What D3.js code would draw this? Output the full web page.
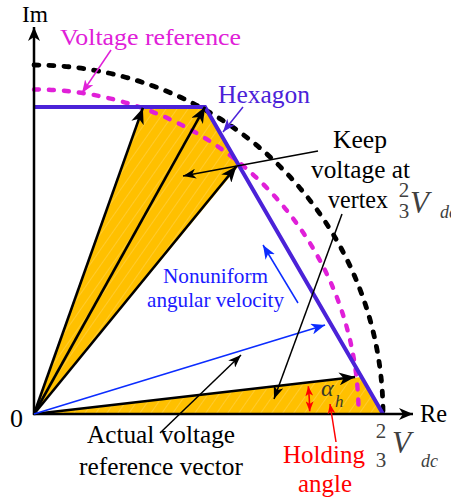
<!DOCTYPE html>
<html>
<head>
<script src="https://cdn.jsdelivr.net/npm/d3@7"></script>
</head>
<body style="margin:0">
<script>
// values in units of the 2/3 Vdc circle radius
const hexagon = [[0, 0.88], [0.49, 0.88], [1, 0]];
const circleNames = ["limit", "reference"];
const circleRadii = [1.0, 0.93];
const vectorTips = [[0.312, 0.877], [0.49, 0.88], [0.58, 0.71], [0.92, 0.106]];
const blueVector = [0.834, 0.255];
const sectorTop = [[0, 0], [0.312, 0.877], [0.49, 0.88], [0.586, 0.71]];
const sectorBottom = [[0, 0], [0.939, 0.106], [1, 0]];
const holdingRadius = 0.79;

const W = 451, H = 504;
const ox = 34, oy = 414, R = 349;
const SERIF = '"Liberation Serif"';

const svg = d3.select("body").append("svg").attr("width", W).attr("height", H);

const x = d3.scaleLinear().domain([0, 1]).range([ox, ox + R]);
const y = d3.scaleLinear().domain([0, 1]).range([oy, oy - R]);

const defs = svg.append("defs");

// faint white hatch over the orange
const pat = defs.append("pattern").attr("id", "hatch")
  .attr("patternUnits", "userSpaceOnUse").attr("width", 9).attr("height", 9)
  .attr("patternTransform", "rotate(35)");
pat.append("rect").attr("width", 9).attr("height", 9).attr("fill", "#ffc000");
pat.append("line").attr("x1", 0).attr("y1", 0).attr("x2", 0).attr("y2", 9)
  .attr("stroke", "rgba(255,255,255,0.3)").attr("stroke-width", 1.2);

function marker(id, color, len, wid) {
  defs.append("marker").attr("id", id)
    .attr("viewBox", `${-len} ${-wid / 2} ${len} ${wid}`)
    .attr("markerUnits", "userSpaceOnUse")
    .attr("markerWidth", len).attr("markerHeight", wid)
    .attr("refX", 0).attr("refY", 0)
    .attr("orient", "auto-start-reverse")
    .append("path")
    .attr("d", `M0,0 L${-len},${-wid / 2} L${-len * 0.72},0 L${-len},${wid / 2} Z`)
    .attr("fill", color);
}
marker("arrBig", "#000", 16, 13);
marker("arrAxis", "#000", 14, 12);
marker("arrSmall", "#000", 13, 10);
marker("arrBlue", "#0b2cff", 14, 11);
marker("arrMag", "#e020d8", 13, 10);
marker("arrHex", "#4b22d8", 13, 10);
marker("arrRed", "#ff0000", 10, 8);

const line = d3.line().x(d => x(d[0])).y(d => y(d[1]));

// orange sectors
svg.append("path").attr("d", line(sectorTop) + "Z").attr("fill", "url(#hatch)");
svg.append("path").attr("d", line(sectorBottom) + "Z").attr("fill", "url(#hatch)");

// dashed circles
const circColors = ["#000", "#e020d8"];
circleRadii.forEach((r, i) => {
  const p = d3.path();
  const rp = x(r) - ox;
  p.moveTo(ox, oy - rp);
  p.arc(ox, oy, rp, -Math.PI / 2, 0, false);
  svg.append("path").attr("class", circleNames[i])
    .attr("d", p.toString()).attr("fill", "none")
    .attr("stroke", circColors[i]).attr("stroke-width", i === 0 ? 4.8 : 4.4)
    .attr("stroke-linecap", "round")
    .attr("stroke-dasharray", "5 10");
});

// hexagon
svg.append("path").attr("d", line(hexagon)).attr("fill", "none")
  .attr("stroke", "#4b22d8").attr("stroke-width", 4);

// axes
svg.append("line").attr("x1", ox).attr("y1", oy + 1).attr("x2", ox).attr("y2", 27)
  .attr("stroke", "#000").attr("stroke-width", 2.5).attr("marker-end", "url(#arrAxis)");
svg.append("line").attr("x1", ox - 1).attr("y1", oy).attr("x2", 413).attr("y2", oy)
  .attr("stroke", "#000").attr("stroke-width", 2.5).attr("marker-end", "url(#arrAxis)");

// voltage vectors
svg.selectAll(".vec").data(vectorTips).enter().append("line").attr("class", "vec")
  .attr("x1", x(0)).attr("y1", y(0))
  .attr("x2", d => x(d[0])).attr("y2", d => y(d[1]))
  .attr("stroke", "#000").attr("stroke-width", 2.6)
  .attr("marker-end", "url(#arrBig)");

svg.append("line")
  .attr("x1", x(0)).attr("y1", y(0)).attr("x2", x(blueVector[0])).attr("y2", y(blueVector[1]))
  .attr("stroke", "#0b2cff").attr("stroke-width", 1.6).attr("marker-end", "url(#arrBlue)");

// holding angle arc
const last = vectorTips[vectorTips.length - 1];
const ang = Math.atan2(last[1], last[0]);
const hr = x(holdingRadius) - ox;
const hp = d3.path();
hp.moveTo(ox + hr * Math.cos(-ang * 0.88), oy + hr * Math.sin(-ang * 0.88));
hp.arc(ox, oy, hr, -ang * 0.88, -0.01, false);
svg.append("path").attr("d", hp.toString()).attr("fill", "none")
  .attr("stroke", "#ff0000").attr("stroke-width", 1.6)
  .attr("marker-start", "url(#arrRed)").attr("marker-end", "url(#arrRed)");

// annotation pointers (pixel positions)
const pointers = [
  { from: [318, 151], to: [183, 176], m: "arrSmall", c: "#000" },
  { from: [342, 214], to: [274, 399], m: "arrSmall", c: "#000" },
  { from: [160, 433], to: [241, 355], m: "arrSmall", c: "#000" },
  { from: [298, 303], to: [263, 245], m: "arrBlue", c: "#0b2cff" },
  { from: [111, 50], to: [82, 93], m: "arrMag", c: "#e020d8" },
  { from: [243, 107], to: [223, 132], m: "arrHex", c: "#4b22d8" },
  { from: [336, 442], to: [330, 404], m: "arrRed", c: "#ff0000" }
];
svg.selectAll(".ptr").data(pointers).enter().append("line").attr("class", "ptr")
  .attr("x1", d => d.from[0]).attr("y1", d => d.from[1])
  .attr("x2", d => d.to[0]).attr("y2", d => d.to[1])
  .attr("stroke", d => d.c).attr("stroke-width", 1.5)
  .attr("marker-end", d => `url(#${d.m})`);

// labels
const labels = [
  { t: "Im", x: 22, y: 22, len: 26, c: "#000", s: 24 },
  { t: "Voltage reference", x: 60, y: 45, len: 181, c: "#e020d8", s: 24 },
  { t: "Hexagon", x: 218, y: 103, len: 92, c: "#4b22d8", s: 25 },
  { t: "Keep", x: 333, y: 148, len: 54, c: "#000", s: 25 },
  { t: "voltage at", x: 311, y: 178, len: 99, c: "#000", s: 25 },
  { t: "vertex", x: 328, y: 208, len: 60, c: "#000", s: 25 },
  { t: "Nonuniform", x: 163, y: 283, len: 105, c: "#1a1aff", s: 21 },
  { t: "angular velocity", x: 147, y: 307, len: 137, c: "#1a1aff", s: 21 },
  { t: "Actual voltage", x: 87, y: 443, len: 148, c: "#000", s: 25 },
  { t: "reference vector", x: 79, y: 475, len: 164, c: "#000", s: 25 },
  { t: "Holding", x: 283, y: 463, len: 82, c: "#ff0000", s: 25 },
  { t: "angle", x: 298, y: 492, len: 54, c: "#ff0000", s: 25 },
  { t: "Re", x: 420, y: 422, len: 27, c: "#000", s: 25 },
  { t: "0", x: 10, y: 427, len: 13, c: "#000", s: 25 }
];
svg.selectAll(".lbl").data(labels).enter().append("text").attr("class", "lbl")
  .attr("x", d => d.x).attr("y", d => d.y)
  .attr("textLength", d => d.len).attr("lengthAdjust", "spacingAndGlyphs")
  .attr("fill", d => d.c).attr("font-size", d => d.s)
  .style("font-family", SERIF)
  .text(d => d.t);

// 2/3 Vdc symbols
function vdc(g, p) {
  const c = "#404040";
  const t = (tx, ty, s, it, str, anchor) => g.append("text")
    .attr("x", tx).attr("y", ty).attr("font-size", s)
    .attr("text-anchor", anchor || "start")
    .attr("font-style", it ? "italic" : "normal")
    .attr("fill", c).style("font-family", SERIF).text(str);
  t(p.cx, p.two, 21, false, "2", "middle");
  t(p.cx, p.three, 21, false, "3", "middle");
  t(p.vx, p.vy, 31, true, "V");
  t(p.dx, p.dy, 18, true, "dc");
}
vdc(svg.append("g"), { cx: 404, two: 197, three: 218, vx: 410, vy: 213, dx: 440, dy: 218 });
vdc(svg.append("g"), { cx: 381, two: 438, three: 467, vx: 392, vy: 453, dx: 421, dy: 467 });

// alpha_h
svg.append("text").attr("x", 321).attr("y", 396).attr("font-size", 24)
  .attr("font-style", "italic").attr("fill", "#3a3a2a").style("font-family", SERIF).text("\u03b1");
svg.append("text").attr("x", 335).attr("y", 407).attr("font-size", 17)
  .attr("font-style", "italic").attr("fill", "#3a3a2a").style("font-family", SERIF).text("h");
</script>
</body>
</html>
